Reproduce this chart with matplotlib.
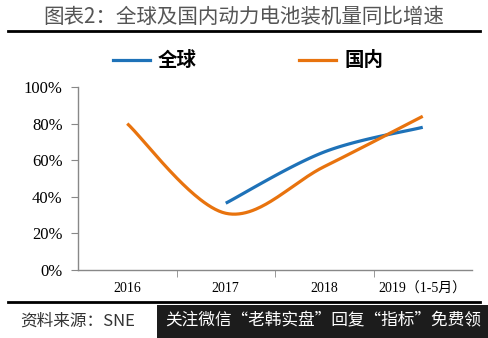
import numpy as np
import matplotlib
matplotlib.use("Agg")
import matplotlib.pyplot as plt
from matplotlib.lines import Line2D
from matplotlib.patches import Rectangle

categories = ["2016", "2017", "2018", "2019（1-5月）"]
global_vals = [None, 0.365, 0.645, 0.78]
domestic_vals = [0.80, 0.31, 0.565, 0.84]
yticks = [0, 0.2, 0.4, 0.6, 0.8, 1.0]
ytick_labels = ["0%", "20%", "40%", "60%", "80%", "100%"]

CJK = ["Noto Sans CJK SC", "DejaVu Sans"]
SERIF = ["Liberation Serif", "Noto Sans CJK SC"]


def smooth(xs, ys, n=60):
    pts = np.column_stack([xs, ys]).astype(float)
    out = []
    m = len(pts)
    for i in range(m - 1):
        p0 = pts[i - 1] if i > 0 else pts[i]
        p1 = pts[i]
        p2 = pts[i + 1]
        p3 = pts[i + 2] if i + 2 < m else pts[i + 1]
        c1 = p1 + (p2 - p0) / 6.0
        c2 = p2 - (p3 - p1) / 6.0
        t = np.linspace(0, 1, n)[:, None]
        seg = ((1 - t) ** 3) * p1 + 3 * ((1 - t) ** 2) * t * c1 + 3 * (1 - t) * t ** 2 * c2 + t ** 3 * p2
        out.append(seg if i == 0 else seg[1:])
    s = np.vstack(out)
    return s[:, 0], s[:, 1]


fig = plt.figure(figsize=(4.88, 3.38), dpi=100)
W, H = 488, 338
ax = fig.add_axes([78 / W, 1 - 270 / H, (472 - 78) / W, (270 - 87) / H])

blue = "#1E72B8"
orange = "#E8730E"

gx = [i for i, v in enumerate(global_vals) if v is not None]
gy = [v for v in global_vals if v is not None]
sx, sy = smooth(gx, gy)
ax.plot(sx, sy, color=blue, lw=2.3, solid_capstyle="butt")
dx = list(range(len(domestic_vals)))
sx, sy = smooth(dx, domestic_vals)
ax.plot(sx, sy, color=orange, lw=2.3, solid_capstyle="butt")

ax.set_xlim(-0.5, len(categories) - 0.5)
ax.set_ylim(0, 1.0)
ax.set_yticks(yticks)
ax.set_yticklabels(ytick_labels, fontsize=12, family=SERIF)
ax.set_xticks(range(len(categories)))
ax.set_xticklabels(categories, fontsize=10, family=SERIF)
ax.set_xticks([0.5, 1.5, 2.5], minor=True)
ax.tick_params(axis="x", which="major", length=0, pad=9)
ax.tick_params(axis="x", which="minor", length=5, color="#888888", direction="out")
ax.tick_params(axis="y", length=5, color="#888888", direction="out", pad=6)
for s in ["top", "right"]:
    ax.spines[s].set_visible(False)
for s in ["left", "bottom"]:
    ax.spines[s].set_color("#888888")
    ax.spines[s].set_linewidth(1.0)

# title
fig.text(0.5, 1 - 17 / H, "图表2：全球及国内动力电池装机量同比增速", ha="center", va="center",
         fontsize=14.8, color="#555555", family=CJK, fontweight="light")
fig.add_artist(Line2D([8 / W, 480 / W], [1 - 31 / H, 1 - 31 / H], color="black", lw=2))
fig.add_artist(Line2D([8 / W, 480 / W], [1 - 302 / H, 1 - 302 / H], color="black", lw=2))

# legend
handles = [Line2D([], [], color=blue, lw=2.3), Line2D([], [], color=orange, lw=2.3)]
fig.legend(handles, ["全球", "国内"], loc="center", bbox_to_anchor=(0.508, 1 - 61 / H), ncol=2,
           frameon=False, prop={"family": CJK, "weight": "bold", "size": 14},
           handlelength=1.9, handletextpad=0.4, columnspacing=5.3)

# source
fig.text(20 / W, 1 - 321 / H, "资料来源：SNE", ha="left", va="center", fontsize=12,
         style="italic", color="#333333", family=CJK)
fig.add_artist(Rectangle((157 / W, 0), (488 - 157) / W, 33 / H, transform=fig.transFigure,
                         facecolor="#1c1c1c", edgecolor="none", zorder=5))
fig.text(323 / W, 1 - 321 / H, "关注微信“老韩实盘”回复“指标”免费领", ha="center", va="center",
         fontsize=12, color="white", family=CJK, zorder=6)

fig.savefig("out.png", dpi=100)
